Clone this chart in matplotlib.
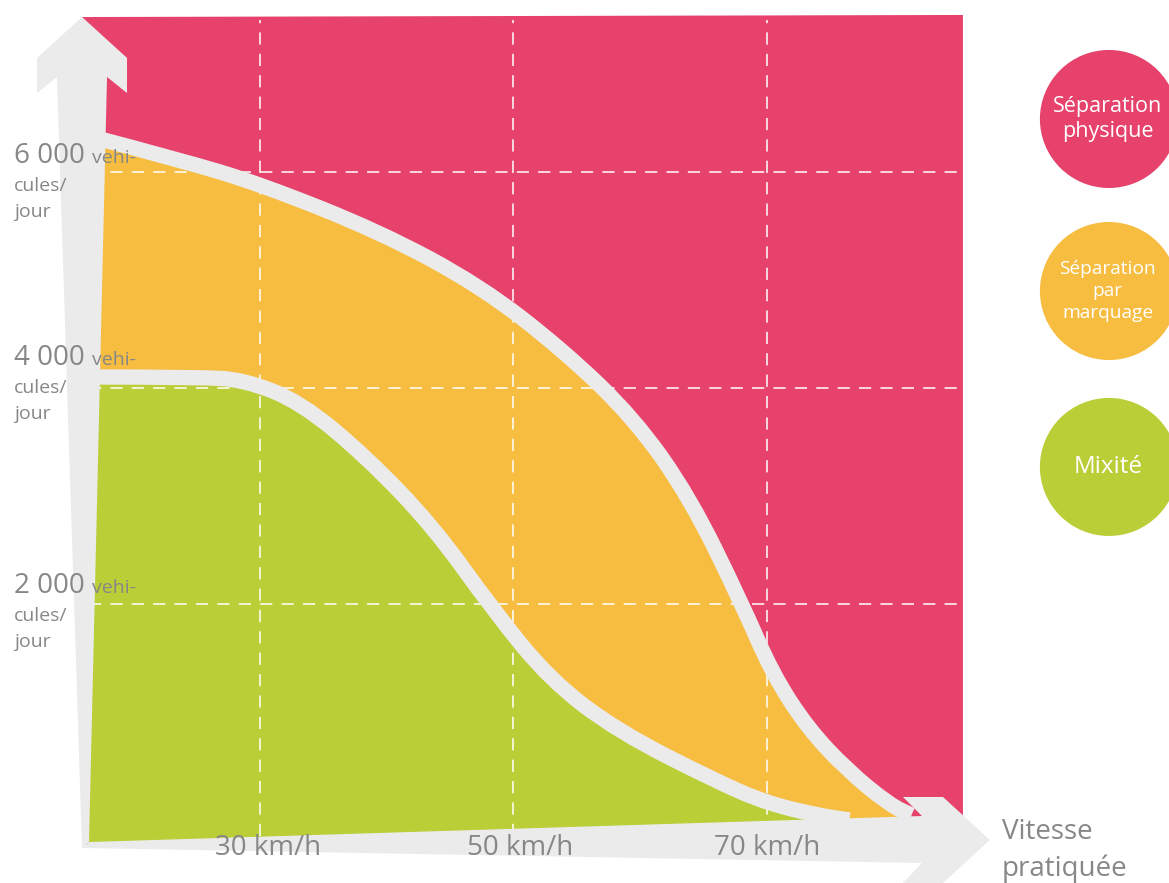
import matplotlib.pyplot as plt
from matplotlib.patches import Polygon, PathPatch
from matplotlib.path import Path

plt.rcParams["font.family"] = ["Open Sans", "DejaVu Sans"]

upper_speed = [16.5, 23.7, 30.0, 39.5, 47.4, 53.9, 59.5, 63.9, 68.0, 70.4, 73.2, 76.4,
               79.7, 81.4]
upper_traffic = [6333, 6111, 5889, 5444, 4944, 4352, 3722, 2991, 2009, 1361, 852, 454,
                 139, 46]

lower_speed = [16.5, 25.3, 28.8, 33.2, 38.4, 43.7, 48.4, 52.9, 58.2, 66.1, 70.0, 73.9, 76.5]
lower_traffic = [4102, 4102, 4074, 3870, 3361, 2713, 1944, 1296, 824, 352, 157, 46, 0]

speed_ticks = [30, 50, 70]
speed_labels = ["30 km/h", "50 km/h", "70 km/h"]
traffic_ticks = [2000, 4000, 6000]
traffic_labels = ["2 000", "4 000", "6 000"]
zone_labels = ["Séparation\nphysique", "Séparation\npar\nmarquage", "Mixité"]

PINK = "#E6426C"
ORANGE = "#F6BD40"
GREEN = "#BACE37"
GREY = "#EBEBEB"
TEXT_GREY = "#878787"
BOTTOM = -230


def smooth_curve(xs, ys):
    # tracé lissé (béziers quadratiques) passant près des points lus
    pts = list(zip(xs, ys))
    verts, codes = [pts[0]], [Path.MOVETO]
    for p, q in zip(pts[1:-1], pts[2:]):
        verts += [p, ((p[0] + q[0]) / 2, (p[1] + q[1]) / 2)]
        codes += [Path.CURVE3, Path.CURVE3]
    verts.append(pts[-1])
    codes.append(Path.LINETO)
    return verts, codes


def zone_path(xs, ys):
    verts, codes = smooth_curve(xs, ys)
    verts += [(xs[-1], BOTTOM), (xs[0], BOTTOM), (xs[0], ys[0])]
    codes += [Path.LINETO, Path.LINETO, Path.CLOSEPOLY]
    return Path(verts, codes)


fig = plt.figure(figsize=(11.69, 8.83), dpi=100)
ax = fig.add_axes([0, 0, 1, 1])
ax.set_xlim(9.487, 101.72)
ax.set_ylim(-583.3, 7592.6)
ax.set_axis_off()

# carré de fond (séparation physique), puis zones orange et verte
square = [(15.96, 7435), (85.46, 7454), (85.46, -93), (16.27, -231)]
ax.add_patch(Polygon(square, closed=True, facecolor=PINK, edgecolor="none", zorder=1))
ax.add_patch(PathPatch(zone_path(upper_speed, upper_traffic), facecolor=ORANGE,
                       edgecolor="none", zorder=1.1))
ax.add_patch(PathPatch(zone_path(lower_speed, lower_traffic), facecolor=GREEN,
                       edgecolor="none", zorder=1.2))

# grille blanche en tirets
for v in speed_ticks:
    ax.plot([v, v], [-150, 7410], color="white", lw=1.1, ls=(0, (8, 6)), zorder=2)
for t in traffic_ticks:
    ax.plot([16.5, 85.46], [t, t], color="white", lw=1.1, ls=(0, (8, 6)), zorder=2)

# seuils = bandes grises épaisses
for xs, ys in [(upper_speed, upper_traffic), (lower_speed, lower_traffic)]:
    verts, codes = smooth_curve(xs, ys)
    ax.add_patch(PathPatch(Path(verts, codes), facecolor="none", edgecolor=GREY, lw=11,
                           capstyle="butt", joinstyle="round", zorder=3))

# flèches des axes
y_arrow = [(15.96, 7435), (19.51, 7056), (19.51, 6731), (17.93, 6880), (16.51, -204),
           (15.96, -259), (13.98, 6880), (12.41, 6731), (12.41, 7056)]
x_arrow = [(15.96, -259), (82.23, -398), (80.73, -583), (83.89, -583), (87.59, -185),
           (83.89, 213), (80.73, 213), (82.23, 37), (16.51, -204)]
for pts in (y_arrow, x_arrow):
    ax.add_patch(Polygon(pts, closed=True, facecolor=GREY, edgecolor="none", zorder=4))

# étiquettes de trafic
traffic_label_y = [2102, 4213, 6083]
for label, base in zip(traffic_labels, traffic_label_y):
    ax.text(10.6, base, label, fontsize=20, color=TEXT_GREY, va="baseline", zorder=5)
    ax.text(16.75, base, "vehi-", fontsize=14, color=TEXT_GREY, va="baseline", zorder=5)
    ax.annotate("cules/", xy=(10.6, base), xytext=(0, -20), textcoords="offset points",
                fontsize=14, color=TEXT_GREY, va="baseline", zorder=5)
    ax.annotate("jour", xy=(10.6, base), xytext=(0, -39), textcoords="offset points",
                fontsize=14, color=TEXT_GREY, va="baseline", zorder=5)

# étiquettes de vitesse
speed_label_dx = [6, 5, 0]
for v, label, dx in zip(speed_ticks, speed_labels, speed_label_dx):
    ax.annotate(label, xy=(v, -324), xytext=(dx, 0), textcoords="offset points",
                ha="center", va="baseline", fontsize=20, color=TEXT_GREY, zorder=5)

ax.text(88.54, -176, "Vitesse", fontsize=20, color=TEXT_GREY, va="baseline")
ax.text(88.54, -518, "pratiquée", fontsize=20, color=TEXT_GREY, va="baseline")

# légende en pastilles
legend_x = 96.98
legend_y = [6491, 4898, 3269]
ax.scatter([legend_x] * 3, legend_y, s=9880, c=[PINK, ORANGE, GREEN], linewidths=0, zorder=5)
for y, label, fs, ls in zip(legend_y, zone_labels, [15.5, 13.8, 17.5], [1.2, 1.3, 1.2]):
    ax.text(legend_x - 0.1, y, label, ha="center", va="center", multialignment="center",
            fontsize=fs, linespacing=ls, color="white", zorder=6)

fig.savefig("out.png", dpi=100, facecolor="white")
